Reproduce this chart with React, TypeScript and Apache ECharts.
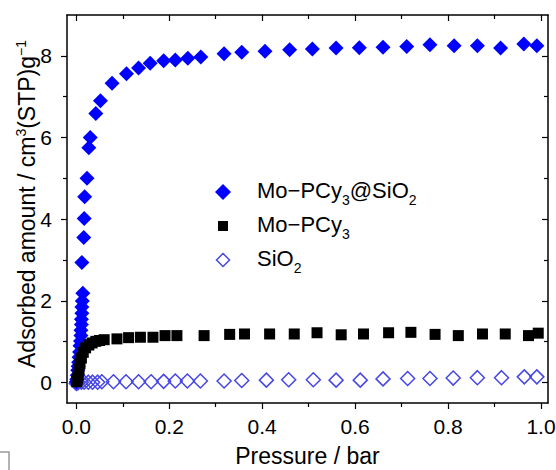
import React, { useEffect, useRef } from "react";
import * as echarts from "echarts";

// ---- data ----
const compositeX = [0.000, 0.001, 0.002, 0.003, 0.004, 0.005, 0.006, 0.007, 0.008, 0.009, 0.010, 0.010, 0.011, 0.011, 0.012, 0.012, 0.013, 0.014, 0.012, 0.016, 0.017, 0.018, 0.023, 0.027, 0.030, 0.042, 0.052, 0.077, 0.108, 0.134, 0.159, 0.188, 0.213, 0.240, 0.268, 0.318, 0.356, 0.406, 0.459, 0.508, 0.559, 0.609, 0.660, 0.711, 0.761, 0.813, 0.863, 0.913, 0.963, 0.991];
const compositeY = [0.02, 0.08, 0.18, 0.30, 0.40, 0.50, 0.62, 0.75, 0.90, 1.02, 1.15, 1.28, 1.42, 1.55, 1.70, 1.85, 2.00, 2.19, 2.94, 3.55, 4.02, 4.55, 5.00, 5.75, 6.00, 6.59, 6.90, 7.33, 7.56, 7.70, 7.82, 7.88, 7.90, 7.94, 7.97, 8.05, 8.09, 8.11, 8.15, 8.17, 8.19, 8.20, 8.21, 8.23, 8.27, 8.25, 8.25, 8.19, 8.29, 8.25];

const complexX = [0.001, 0.002, 0.004, 0.006, 0.008, 0.011, 0.015, 0.020, 0.027, 0.034, 0.042, 0.050, 0.060, 0.0875, 0.1125, 0.138, 0.165, 0.191, 0.2165, 0.275, 0.330, 0.362, 0.416, 0.469, 0.518, 0.570, 0.618, 0.672, 0.720, 0.772, 0.822, 0.874, 0.923, 0.973, 0.994];
const complexY = [0.02, 0.08, 0.18, 0.32, 0.46, 0.60, 0.74, 0.85, 0.92, 0.97, 1.01, 1.03, 1.05, 1.07, 1.10, 1.11, 1.11, 1.15, 1.15, 1.15, 1.18, 1.19, 1.19, 1.19, 1.22, 1.17, 1.19, 1.22, 1.23, 1.18, 1.15, 1.19, 1.19, 1.15, 1.21];

const silicaX = [0.000, 0.002, 0.004, 0.011, 0.017, 0.026, 0.035, 0.046, 0.055, 0.080, 0.107, 0.134, 0.161, 0.188, 0.213, 0.239, 0.267, 0.318, 0.356, 0.409, 0.457, 0.510, 0.559, 0.611, 0.660, 0.713, 0.761, 0.811, 0.863, 0.915, 0.964, 0.991];
const silicaY = [-0.02, 0.00, 0.00, 0.01, 0.01, 0.01, 0.01, 0.01, 0.02, 0.02, 0.02, 0.02, 0.02, 0.03, 0.04, 0.04, 0.04, 0.04, 0.05, 0.06, 0.07, 0.07, 0.06, 0.06, 0.09, 0.10, 0.10, 0.11, 0.12, 0.12, 0.14, 0.14];

const seriesNames = ["Mo−PCy3@SiO2", "Mo−PCy3", "SiO2"];
const legendRich = [
  "{n|Mo−PCy}{b|3}{n|@SiO}{b|2}",
  "{n|Mo−PCy}{b|3}",
  "{n|SiO}{b|2}",
];

const xMajorTicks = [0, 0.2, 0.4, 0.6, 0.8, 1.0];
const xMinorTicks = [0.1, 0.3, 0.5, 0.7, 0.9];
const yMajorTicks = [0, 2, 4, 6, 8];
const yMinorTicks = [1, 3, 5, 7];

const xTitle = "Pressure / bar";
const yTitleRich = "{a|Adsorbed amount / cm}{s|3}{a|(STP)g}{s|−1}";

const FONT = "Liberation Sans, Arial, sans-serif";
const BLUE = "#0000ff";
const OPEN = "#4646e6";
const pairs = (xs: number[], ys: number[]) => xs.map((x, i) => [x, ys[i]]);

export default function App() {
  const ref = useRef<HTMLDivElement>(null);
  useEffect(() => {
    if (!ref.current) return;
    const chart = echarts.init(ref.current, null, { renderer: "svg" });
    const axisLine = { show: true, onZero: false, lineStyle: { color: "#000", width: 1.5 } };
    const noLine = { show: false, onZero: false };
    const xBase = { type: "value", min: -0.02, max: 1.015, splitLine: { show: false } };
    const yBase = { type: "value", min: -0.5, max: 9, splitLine: { show: false } };
    const tickStyle = { color: "#000", width: 1.2 };

    // legend built as graphic (icon + rich text), one row per series
    const lx = 223;
    const ly = [192, 226, 260];
    const legendRichStyle = {
      n: { fontFamily: FONT, fontSize: 22, lineHeight: 34, fill: "#000" },
      b: { fontFamily: FONT, fontSize: 14, verticalAlign: "bottom", fill: "#000" },
    };
    const legendGraphic: any[] = [
      {
        type: "polygon",
        shape: { points: [[lx, ly[0] - 8], [lx + 8, ly[0]], [lx, ly[0] + 8], [lx - 8, ly[0]]] },
        style: { fill: BLUE },
      },
      {
        type: "rect",
        shape: { x: lx - 5, y: ly[1] - 5, width: 10, height: 10 },
        style: { fill: "#000" },
      },
      {
        type: "polygon",
        shape: { points: [[lx, ly[2] - 6.5], [lx + 6.5, ly[2]], [lx, ly[2] + 6.5], [lx - 6.5, ly[2]]] },
        style: { fill: "#fff", stroke: OPEN, lineWidth: 1.5 },
      },
      ...legendRich.map((t, i) => ({
        type: "text",
        x: 257,
        y: ly[i] - 2,
        style: { text: t, align: "left", verticalAlign: "middle", rich: legendRichStyle, fill: "#000" },
      })),
    ];

    chart.setOption({
      animation: false,
      backgroundColor: "#fff",
      grid: { left: 67, right: 8, top: 15, bottom: 67, containLabel: false, outerBoundsMode: "none" },
      xAxis: [
        {
          ...xBase, position: "bottom", axisLine,
          name: xTitle, nameLocation: "middle", nameGap: 41,
          nameTextStyle: { fontFamily: FONT, fontSize: 23, color: "#000" },
          axisTick: { show: true, inside: false, length: 6, lineStyle: tickStyle, customValues: xMajorTicks },
          axisLabel: { show: true, customValues: xMajorTicks, margin: 13, fontFamily: FONT, fontSize: 21, color: "#000", formatter: (v: number) => v.toFixed(1) },
        },
        {
          ...xBase, position: "bottom", axisLine: noLine,
          axisTick: { show: true, inside: false, length: 4, lineStyle: tickStyle, customValues: xMinorTicks },
          axisLabel: { show: false },
        },
        {
          ...xBase, position: "top", axisLine,
          axisTick: { show: true, inside: true, length: 6, lineStyle: tickStyle, customValues: xMajorTicks },
          axisLabel: { show: false },
        },
        {
          ...xBase, position: "top", axisLine: noLine,
          axisTick: { show: true, inside: true, length: 4, lineStyle: tickStyle, customValues: xMinorTicks },
          axisLabel: { show: false },
        },
      ],
      yAxis: [
        {
          ...yBase, position: "left", axisLine,
          axisTick: { show: true, inside: false, length: 6, lineStyle: tickStyle, customValues: yMajorTicks },
          axisLabel: { show: true, customValues: yMajorTicks, margin: 15, fontFamily: FONT, fontSize: 21, color: "#000" },
        },
        {
          ...yBase, position: "left", axisLine: noLine,
          axisTick: { show: true, inside: false, length: 4, lineStyle: tickStyle, customValues: yMinorTicks },
          axisLabel: { show: false },
        },
        {
          ...yBase, position: "right", axisLine,
          axisTick: { show: true, inside: true, length: 6, lineStyle: tickStyle, customValues: yMajorTicks },
          axisLabel: { show: false },
        },
        {
          ...yBase, position: "right", axisLine: noLine,
          axisTick: { show: true, inside: true, length: 4, lineStyle: tickStyle, customValues: yMinorTicks },
          axisLabel: { show: false },
        },
      ],
      graphic: [
        {
          type: "text",
          x: 27,
          y: 204,
          rotation: Math.PI / 2,
          style: {
            text: yTitleRich,
            align: "center",
            verticalAlign: "middle",
            fill: "#000",
            rich: {
              a: { fontFamily: FONT, fontSize: 23, lineHeight: 26, fill: "#000" },
              s: { fontFamily: FONT, fontSize: 14, verticalAlign: "top", fill: "#000" },
            },
          },
        },
        ...legendGraphic,
        {
          type: "polyline",
          shape: { points: [[0, 452], [9, 452], [9, 470]] },
          style: { stroke: "#9a9a9a", lineWidth: 1.5, fill: "none" },
        },
      ],
      series: [
        {
          name: seriesNames[2], type: "scatter", xAxisIndex: 0, yAxisIndex: 0,
          symbol: "diamond", symbolSize: 14, z: 2,
          itemStyle: { color: "rgba(255,255,255,0)", borderColor: OPEN, borderWidth: 1.5, opacity: 1 },
          data: pairs(silicaX, silicaY),
        },
        {
          name: seriesNames[0], type: "scatter", xAxisIndex: 0, yAxisIndex: 0,
          symbol: "diamond", symbolSize: 15, z: 3,
          itemStyle: { color: BLUE, opacity: 1 },
          data: pairs(compositeX, compositeY),
        },
        {
          name: seriesNames[1], type: "scatter", xAxisIndex: 0, yAxisIndex: 0,
          symbol: "rect", symbolSize: 11, z: 4,
          itemStyle: { color: "#000", opacity: 1 },
          data: pairs(complexX, complexY),
        },
      ],
    });
    return () => chart.dispose();
  }, []);
  return <div ref={ref} style={{ position: "fixed", left: 0, top: 0, width: 556, height: 470 }} />;
}
